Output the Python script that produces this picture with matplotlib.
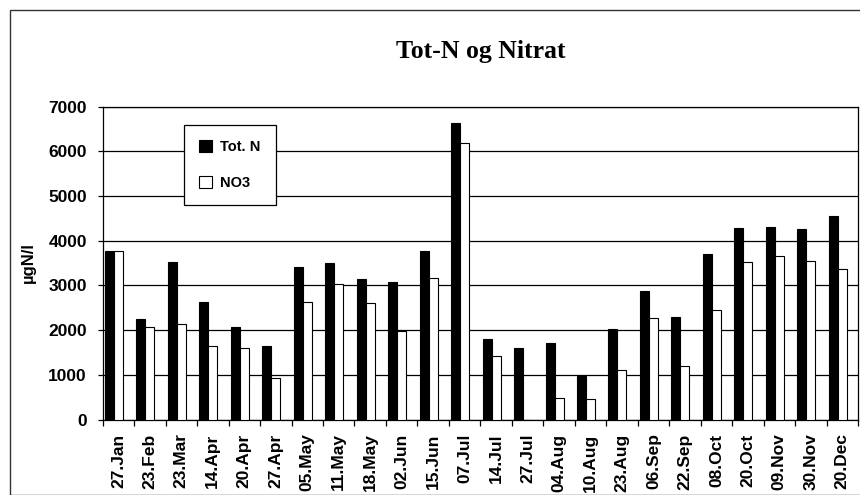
import numpy as np
import matplotlib
matplotlib.use('Agg')
import matplotlib.pyplot as plt
from matplotlib.patches import Rectangle

dates = ['27.Jan', '23.Feb', '23.Mar', '14.Apr', '20.Apr', '27.Apr', '05.May',
         '11.May', '18.May', '02.Jun', '15.Jun', '07.Jul', '14.Jul', '27.Jul',
         '04.Aug', '10.Aug', '23.Aug', '06.Sep', '22.Sep', '08.Oct', '20.Oct',
         '09.Nov', '30.Nov', '20.Dec']
tot_n = [3780, 2240, 3530, 2630, 2070, 1650, 3420, 3500, 3150, 3070, 3770, 6640,
         1800, 1590, 1710, 980, 2020, 2880, 2300, 3710, 4290, 4310, 4270, 4560]
no3 = [3760, 2060, 2130, 1650, 1610, 930, 2630, 3040, 2600, 1990, 3170, 6190,
       1430, 0, 490, 470, 1100, 2270, 1200, 2440, 3520, 3660, 3550, 3370]
yticks = [0, 1000, 2000, 3000, 4000, 5000, 6000, 7000]

plt.rcParams['font.family'] = ['Liberation Sans', 'DejaVu Sans']

fig = plt.figure(figsize=(8.6, 4.95), dpi=100)
ax = fig.add_axes([0.1194, 0.1525, 0.8783, 0.6319])

# frame round the whole chart
fig.patches.append(Rectangle((10/860, 0.0), 1.0, 1 - 10/495, transform=fig.transFigure,
                             fill=False, edgecolor='#333333', linewidth=1.0))

n = len(dates)
x = np.arange(n)
w = 1/3.5
gap = w/4
ax.bar(x + gap, tot_n, width=w, align='edge', color='black', edgecolor='black',
       linewidth=0.8, label='Tot. N', zorder=3)
ax.bar(x + gap + w, no3, width=w, align='edge', color='white', edgecolor='black',
       linewidth=0.8, label='NO3', zorder=3)

ax.set_xlim(0, n)
ax.set_ylim(0, 7000)
ax.set_yticks(yticks)
ax.set_yticklabels([str(v) for v in yticks], fontsize=12.5, fontweight='bold')
ax.yaxis.grid(True, color='black', linewidth=0.9, zorder=0)
ax.set_axisbelow(True)

ax.set_xticks(np.arange(n + 1))
ax.set_xticklabels([])
ax.set_xticks(x + 0.5, minor=True)
ax.set_xticklabels(dates, minor=True, rotation=90, fontsize=12.5, fontweight='bold')
ax.tick_params(axis='x', which='major', direction='out', length=4, width=0.9)
ax.tick_params(axis='x', which='minor', length=0, pad=10)
ax.tick_params(axis='y', direction='out', length=3.3, width=0.9, pad=8)
for s in ax.spines.values():
    s.set_linewidth(0.9)
    s.set_color('black')

fig.text(0.033, 0.469, 'µgN/l', rotation=90, ha='center', va='center',
         fontsize=12, fontweight='bold')
fig.text(0.559, 1 - 58.3/495, 'Tot-N og Nitrat', ha='center', va='baseline',
         fontsize=18.5, fontweight='bold', family=['Liberation Serif', 'DejaVu Serif'])

leg = ax.legend(loc='upper left', bbox_to_anchor=(184/860, 1 - 125/495),
                bbox_transform=fig.transFigure, borderaxespad=0, fancybox=False,
                edgecolor='black', framealpha=1,
                prop={'weight': 'bold', 'size': 10.5},
                handlelength=0.85, handleheight=0.9, handletextpad=0.6,
                labelspacing=1.45, borderpad=1.05)
leg.get_frame().set_linewidth(0.9)
leg.set_zorder(5)

fig.savefig('out.png', dpi=100)
